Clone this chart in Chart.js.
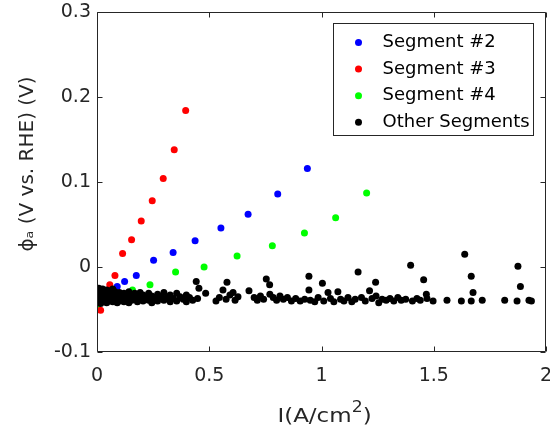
<!DOCTYPE html>
<html><head><meta charset="utf-8">
<script src="https://cdn.jsdelivr.net/npm/chart.js@4.4.0/dist/chart.umd.min.js"></script>
<style>html,body{margin:0;padding:0;background:#fff;}#wrap{width:550px;height:426px;position:relative;}</style>
</head><body><div id="wrap"><canvas id="c"></canvas></div>
<script>
const seriesNames = ['Segment #2', 'Segment #3', 'Segment #4', 'Other Segments'];
const seriesColors = ['#0000ff', '#ff0000', '#00ff00', '#000000'];
const xTicks = [0, 0.5, 1, 1.5, 2];
const xTickLabels = ['0', '0.5', '1', '1.5', '2'];
const yTicks = [-0.1, 0, 0.1, 0.2, 0.3];
const yTickLabels = ['-0.1', '0', '0.1', '0.2', '0.3'];
const xTitleParts = ['I(A/cm', '2', ')'];
const yTitle = '\u03D5\u2090 (V vs. RHE) (V)';

const seg2 = [[0.020,-0.040],[0.050,-0.030],[0.090,-0.023],[0.123,-0.017],[0.175,-0.010],[0.252,0.008],[0.339,0.017],[0.437,0.031],[0.552,0.046],[0.673,0.062],[0.805,0.086],[0.937,0.116]];
const seg3 = [[0.016,-0.051],[0.035,-0.036],[0.057,-0.021],[0.080,-0.010],[0.114,0.016],[0.154,0.032],[0.197,0.054],[0.246,0.078],[0.295,0.104],[0.344,0.138],[0.395,0.184]];
const seg4 = [[0.001,-0.045],[0.080,-0.035],[0.158,-0.027],[0.236,-0.021],[0.350,-0.006],[0.477,0.000],[0.624,0.013],[0.781,0.025],[0.924,0.040],[1.063,0.058],[1.201,0.087]];
const other = [
[0.000,-0.027],[0.000,-0.032],[0.000,-0.037],[0.000,-0.042],
[0.008,-0.025],[0.008,-0.030],[0.008,-0.035],[0.008,-0.040],
[0.016,-0.028],[0.016,-0.033],[0.016,-0.038],[0.016,-0.043],
[0.025,-0.026],[0.025,-0.031],[0.025,-0.036],[0.025,-0.041],
[0.034,-0.029],[0.034,-0.034],[0.034,-0.039],
[0.043,-0.027],[0.043,-0.032],[0.043,-0.037],[0.043,-0.042],
[0.052,-0.030],[0.052,-0.035],[0.052,-0.040],
[0.061,-0.028],[0.061,-0.033],[0.061,-0.038],
[0.070,-0.026],[0.070,-0.031],[0.070,-0.036],[0.070,-0.041],
[0.080,-0.029],[0.080,-0.034],[0.080,-0.039],
[0.090,-0.032],[0.090,-0.037],[0.090,-0.042],
[0.100,-0.030],[0.100,-0.035],[0.100,-0.040],
[0.110,-0.033],[0.110,-0.038],
[0.120,-0.031],[0.120,-0.036],[0.120,-0.041],
[0.130,-0.034],[0.130,-0.039],
[0.142,-0.029],[0.142,-0.036],[0.142,-0.042],
[0.155,-0.033],[0.155,-0.039],
[0.168,-0.031],[0.168,-0.037],
[0.180,-0.035],[0.180,-0.041],
[0.192,-0.030],[0.192,-0.038],
[0.205,-0.033],[0.205,-0.040],
[0.218,-0.036],
[0.230,-0.031],[0.230,-0.039],
[0.244,-0.034],[0.244,-0.042],
[0.258,-0.037],
[0.270,-0.032],[0.270,-0.040],
[0.285,-0.035],
[0.298,-0.030],[0.298,-0.039],
[0.312,-0.036],
[0.326,-0.033],[0.326,-0.041],
[0.340,-0.037],
[0.355,-0.031],[0.355,-0.040],
[0.370,-0.035],
[0.384,-0.038],
[0.398,-0.033],[0.398,-0.041],
[0.412,-0.036],
[0.426,-0.039],
[0.442,-0.017],[0.454,-0.025],[0.448,-0.037],
[0.484,-0.031],[0.530,-0.040],[0.545,-0.036],[0.561,-0.027],[0.579,-0.018],[0.575,-0.038],[0.592,-0.033],[0.606,-0.030],[0.615,-0.039],[0.628,-0.035],[0.677,-0.028],[0.700,-0.036],[0.714,-0.039],[0.728,-0.034],[0.742,-0.038],[0.754,-0.014],[0.769,-0.021],[0.770,-0.032],[0.785,-0.036],[0.800,-0.039],[0.815,-0.034],[0.830,-0.038],[0.848,-0.036],[0.866,-0.040],[0.885,-0.037],[0.905,-0.040],[0.925,-0.038],[0.944,-0.011],[0.944,-0.027],[0.950,-0.039],[0.970,-0.041],
[0.985,-0.036],[1.004,-0.019],[1.010,-0.040],[1.029,-0.030],[1.040,-0.037],[1.055,-0.041],[1.073,-0.029],[1.085,-0.038],[1.100,-0.040],[1.118,-0.036],[1.135,-0.041],[1.150,-0.038],[1.163,-0.006],[1.178,-0.036],[1.195,-0.040],[1.214,-0.028],[1.225,-0.037],[1.241,-0.018],[1.243,-0.034],[1.255,-0.042],[1.270,-0.038],[1.288,-0.039],[1.305,-0.037],[1.322,-0.040],[1.340,-0.036],[1.355,-0.039],[1.375,-0.038],[1.397,0.002],[1.405,-0.040],[1.425,-0.037],[1.440,-0.039],[1.455,-0.015],
[1.467,-0.032],[1.470,-0.037],[1.497,-0.040],[1.559,-0.039],[1.623,-0.040],[1.638,0.015],[1.667,-0.011],[1.675,-0.030],[1.667,-0.040],[1.716,-0.039],[1.816,-0.039],[1.871,-0.040],[1.875,0.001],[1.886,-0.023],[1.924,-0.039],[1.935,-0.040]
];
const seriesData = [seg2, seg3, seg4, other];
const seriesOrder = [1, 2, 3, 0];

const axisColor = '#262626';
const FONT = 'DejaVu Sans';

const framePlugin = {
  id: 'frame',
  afterDatasetsDraw(chart) {
    const {ctx, chartArea: a, scales: {x, y}} = chart;
    ctx.save();
    ctx.strokeStyle = axisColor;
    ctx.lineWidth = 1;
    const L = Math.round(a.left) + 0.5, R = Math.round(a.right) - 0.5;
    const T = Math.round(a.top) + 0.5, B = Math.round(a.bottom) - 0.5;
    ctx.beginPath();
    ctx.rect(L, T, R - L, B - T);
    const tl = 5;
    xTicks.forEach(v => {
      const p = Math.round(x.getPixelForValue(v)) + 0.5;
      ctx.moveTo(p, B); ctx.lineTo(p, B - tl);
      ctx.moveTo(p, T); ctx.lineTo(p, T + tl);
    });
    yTicks.forEach(v => {
      const p = Math.round(y.getPixelForValue(v)) + 0.5;
      ctx.moveTo(L, p); ctx.lineTo(L + tl, p);
      ctx.moveTo(R, p); ctx.lineTo(R - tl, p);
    });
    ctx.stroke();
    ctx.restore();
  }
};

const titlesPlugin = {
  id: 'titles',
  afterDraw(chart) {
    const {ctx, chartArea: a} = chart;
    ctx.save();
    ctx.fillStyle = axisColor;
    // x title with superscript
    const sx = 1.15;
    const fMain = '20px "' + FONT + '"', fSup = '15px "' + FONT + '"';
    ctx.font = fMain; const w0 = ctx.measureText(xTitleParts[0]).width;
    const w2 = ctx.measureText(xTitleParts[2]).width;
    ctx.font = fSup; const w1 = ctx.measureText(xTitleParts[1]).width;
    const total = (w0 + w1 + w2) * sx;
    const baseY = chart.height - 4.5;
    const cx = (a.left + a.right) / 2 + 3;
    ctx.translate(cx - total / 2, baseY);
    ctx.scale(sx, 1);
    ctx.textBaseline = 'alphabetic';
    ctx.textAlign = 'left';
    ctx.font = fMain; ctx.fillText(xTitleParts[0], 0, 0);
    ctx.font = fSup; ctx.fillText(xTitleParts[1], w0, -9.5);
    ctx.font = fMain; ctx.fillText(xTitleParts[2], w0 + w1, 0);
    ctx.restore();
    // y title rotated
    ctx.save();
    ctx.fillStyle = axisColor;
    ctx.font = '20px "' + FONT + '"';
    ctx.translate(28, (a.top + a.bottom) / 2 - 18);
    ctx.rotate(-Math.PI / 2);
    ctx.textAlign = 'center';
    ctx.textBaseline = 'middle';
    ctx.fillText(yTitle, 0, 0);
    ctx.restore();
  }
};

const legendPlugin = {
  id: 'boxLegend',
  afterDraw(chart) {
    const {ctx, chartArea: a} = chart;
    const w = 200, h = 112;
    const bx = Math.round(a.right) - 13 - w + 0.5, by = Math.round(a.top) + 11 + 0.5;
    ctx.save();
    ctx.fillStyle = '#ffffff';
    ctx.fillRect(bx, by, w, h);
    ctx.strokeStyle = axisColor;
    ctx.lineWidth = 1;
    ctx.strokeRect(bx, by, w, h);
    ctx.font = '18px "' + FONT + '"';
    ctx.textBaseline = 'middle';
    ctx.textAlign = 'left';
    chart.data.datasets.forEach((ds, i) => {
      const cy = by + 19 + i * 26.6;
      ctx.fillStyle = ds.backgroundColor;
      ctx.beginPath();
      ctx.arc(bx + 25, cy, 3.5, 0, Math.PI * 2);
      ctx.fill();
      ctx.fillStyle = '#000000';
      ctx.fillText(ds.label, bx + 49, cy);
    });
    ctx.restore();
  }
};

new Chart(document.getElementById('c'), {
  type: 'scatter',
  data: {
    datasets: seriesNames.map((n, i) => ({
      label: n,
      data: seriesData[i].map(p => ({x: p[0], y: p[1]})),
      backgroundColor: seriesColors[i],
      borderColor: seriesColors[i],
      borderWidth: 0,
      pointRadius: 3.5,
      pointHoverRadius: 3.5,
      order: seriesOrder[i]
    }))
  },
  options: {
    responsive: true,
    maintainAspectRatio: false,
    animation: false,
    events: [],
    layout: {padding: {left: 0, right: 4, top: 12, bottom: 0}},
    plugins: {legend: {display: false}, tooltip: {enabled: false}},
    scales: {
      x: {
        type: 'linear', min: 0, max: 2,
        afterBuildTicks: s => { s.ticks = xTicks.map(v => ({value: v})); },
        afterFit: s => { s.height = 74; s.paddingLeft = 0; s.paddingRight = 0; },
        grid: {display: false, drawTicks: false},
        border: {display: false},
        ticks: {
          autoSkip: false, maxRotation: 0, padding: 13, color: axisColor,
          font: {family: FONT, size: 19},
          callback: v => xTickLabels[xTicks.indexOf(v)]
        },
        title: {display: false}
      },
      y: {
        type: 'linear', min: -0.1, max: 0.3,
        afterBuildTicks: s => { s.ticks = yTicks.map(v => ({value: v})); },
        afterFit: s => { s.width = 97; s.paddingTop = 0; s.paddingBottom = 0; },
        grid: {display: false, drawTicks: false},
        border: {display: false},
        ticks: {
          autoSkip: false, padding: 6, color: axisColor,
          font: {family: FONT, size: 19},
          callback: v => yTickLabels[yTicks.findIndex(t => Math.abs(t - v) < 1e-9)]
        },
        title: {display: false}
      }
    }
  },
  plugins: [framePlugin, titlesPlugin, legendPlugin]
});
</script>
</body></html>
